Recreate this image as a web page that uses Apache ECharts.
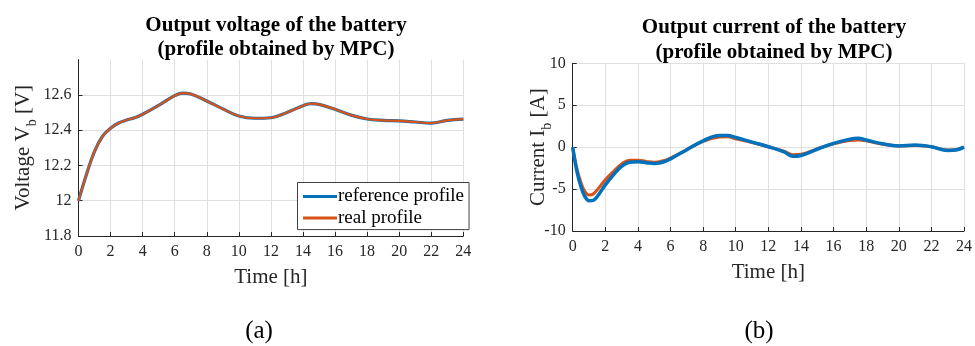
<!DOCTYPE html>
<html>
<head>
<meta charset="utf-8">
<script src="https://cdn.jsdelivr.net/npm/echarts@6/dist/echarts.min.js"></script>
<style>
  html, body { margin: 0; padding: 0; background: #fff; }
  #chart { width: 975px; height: 346px; }
</style>
</head>
<body>
<div id="chart"></div>
<script>
// voltage panel (a)
var hoursV = [0, 0.5, 1, 1.5, 2, 2.5, 3, 3.5, 4, 5, 6, 6.5, 7, 8, 9, 10, 11, 12, 13, 14, 14.5, 15, 16, 17, 18, 19, 20, 21, 22, 23, 24];
var voltRef = [12.0, 12.15, 12.28, 12.365, 12.41, 12.44, 12.457, 12.47, 12.49, 12.54, 12.595, 12.61, 12.605, 12.565, 12.52, 12.48, 12.467, 12.47, 12.5, 12.538, 12.55, 12.546, 12.518, 12.485, 12.463, 12.455, 12.452, 12.446, 12.44, 12.455, 12.462];
var voltReal = [12.0, 12.15, 12.28, 12.365, 12.41, 12.44, 12.457, 12.47, 12.49, 12.54, 12.595, 12.61, 12.605, 12.565, 12.52, 12.48, 12.467, 12.47, 12.5, 12.538, 12.55, 12.546, 12.518, 12.485, 12.463, 12.455, 12.452, 12.446, 12.44, 12.455, 12.462];

// current panel (b)
var hoursI = [0, 0.25, 0.5, 0.75, 1, 1.25, 1.5, 2, 2.5, 3, 3.5, 4, 4.5, 5, 5.5, 6, 7, 8, 9, 9.5, 10, 11, 12, 13, 13.5, 14, 15, 16, 17, 17.5, 18, 19, 20, 21, 22, 23, 23.5, 24];
var currRef = [0, -2.8, -4.7, -5.9, -6.4, -6.35, -5.9, -4.5, -3.3, -2.3, -1.8, -1.75, -1.85, -1.95, -1.8, -1.4, -0.3, 0.75, 1.4, 1.4, 1.15, 0.6, 0.05, -0.6, -1.1, -1.0, -0.25, 0.45, 0.95, 1.05, 0.85, 0.4, 0.15, 0.25, 0.05, -0.4, -0.35, 0];
var currReal = [0, -2.5, -4.2, -5.3, -5.7, -5.6, -5.1, -3.9, -2.9, -2.0, -1.55, -1.55, -1.7, -1.8, -1.65, -1.3, -0.3, 0.7, 1.2, 1.25, 1.0, 0.55, 0.05, -0.5, -0.9, -0.85, -0.2, 0.4, 0.8, 0.85, 0.75, 0.35, 0.15, 0.2, 0.05, -0.35, -0.3, 0];

var xTicks = [0, 24, 2];
var seriesNames = ['reference profile', 'real profile'];

var blue = '#0072BD', orange = '#D95319';
var axisCol = '#262626', gridCol = '#dfdfdf';
var serif = 'Liberation Serif';

function pairs(xs, ys) {
  return xs.map(function (x, i) { return [x, ys[i]]; });
}

function xAxisOf(idx) {
  return {
    type: 'value', gridIndex: idx, min: xTicks[0], max: xTicks[1], interval: xTicks[2],
    name: 'Time [h]', nameLocation: 'middle', nameGap: 31, nameMoveOverlap: false,
    nameTextStyle: { fontFamily: serif, fontSize: 21, color: axisCol },
    axisLine: { onZero: false, lineStyle: { color: axisCol, width: 1 } },
    axisTick: { inside: true, length: 4, lineStyle: { color: axisCol } },
    axisLabel: { fontFamily: serif, fontSize: 16, color: axisCol, margin: 8 },
    splitLine: { show: true, lineStyle: { color: gridCol } }
  };
}

function yName(a, b, c) {
  return {
    name: '{m|' + a + '}{s|' + b + '}{m|' + c + '}',
    nameTextStyle: { rich: {
      m: { fontFamily: serif, fontSize: 21, color: axisCol },
      s: { fontFamily: serif, fontSize: 14, color: axisCol, verticalAlign: 'bottom', padding: [19, 0, 0, 0] }
    } }
  };
}

var yV = yName('Voltage V', 'b', ' [V]');
var yI = yName('Current I', 'b', ' [A]');

var chart = echarts.init(document.getElementById('chart'));
chart.setOption({
  animation: false,
  title: [
    { text: 'Output voltage of the battery\n(profile obtained by MPC)', left: 271, top: 8, textAlign: 'center',
      textStyle: { fontFamily: serif, fontSize: 21, fontWeight: 'bold', color: '#000', lineHeight: 24.5 } },
    { text: 'Output current of the battery\n(profile obtained by MPC)', left: 769, top: 10.5, textAlign: 'center',
      textStyle: { fontFamily: serif, fontSize: 21, fontWeight: 'bold', color: '#000', lineHeight: 24.5 } },
    { text: '(a)', left: 254, top: 314, textAlign: 'center',
      textStyle: { fontFamily: serif, fontSize: 25, fontWeight: 'normal', color: '#000', lineHeight: 25 } },
    { text: '(b)', left: 754, top: 314, textAlign: 'center',
      textStyle: { fontFamily: serif, fontSize: 25, fontWeight: 'normal', color: '#000', lineHeight: 25 } }
  ],
  legend: {
    data: seriesNames, orient: 'vertical', left: 297.5, top: 182.5,
    icon: 'rect', itemWidth: 34, itemHeight: 3, itemGap: 2.6,
    padding: [4.5, 5, 2, 5.5], backgroundColor: '#fff',
    borderColor: '#404040', borderWidth: 1,
    textStyle: { fontFamily: serif, fontSize: 19, color: '#000', padding: [0, 0, 0, -4] }
  },
  grid: [
    { left: 78.5, right: 511.7, top: 59.5, bottom: 110 },
    { left: 572.7, right: 10.7, top: 63.3, bottom: 115 }
  ],
  xAxis: [xAxisOf(0), xAxisOf(1)],
  yAxis: [
    {
      type: 'value', gridIndex: 0, min: 11.8, max: 12.8, interval: 0.2,
      name: yV.name, nameTextStyle: yV.nameTextStyle, nameLocation: 'middle', nameGap: 39, nameMoveOverlap: false,
      axisLine: { show: true, onZero: false, lineStyle: { color: axisCol } },
      axisTick: { show: true, inside: true, length: 4, lineStyle: { color: axisCol } },
      axisLabel: { fontFamily: serif, fontSize: 16, color: axisCol, margin: 7, showMaxLabel: false,
        formatter: function (v) { return +v.toFixed(1) + ''; } },
      splitLine: { show: true, lineStyle: { color: [gridCol, gridCol, gridCol, gridCol, gridCol, 'rgba(0,0,0,0)'] } }
    },
    {
      type: 'value', gridIndex: 1, min: -10, max: 10, interval: 5,
      name: yI.name, nameTextStyle: yI.nameTextStyle, nameLocation: 'middle', nameGap: 18, nameMoveOverlap: false,
      axisLine: { show: true, onZero: false, lineStyle: { color: axisCol } },
      axisTick: { show: true, inside: true, length: 4, lineStyle: { color: axisCol } },
      axisLabel: { fontFamily: serif, fontSize: 16, color: axisCol, margin: 7 },
      splitLine: { show: true, lineStyle: { color: gridCol } }
    }
  ],
  series: [
    { name: seriesNames[0], type: 'line', xAxisIndex: 0, yAxisIndex: 0, data: pairs(hoursV, voltRef),
      smooth: 0.4, showSymbol: false, color: blue, lineStyle: { width: 3.2, color: blue } },
    { name: seriesNames[1], type: 'line', xAxisIndex: 0, yAxisIndex: 0, data: pairs(hoursV, voltReal),
      smooth: 0.4, showSymbol: false, color: orange, lineStyle: { width: 2.2, color: orange } },
    { name: seriesNames[1], type: 'line', xAxisIndex: 1, yAxisIndex: 1, data: pairs(hoursI, currReal),
      smooth: 0.4, showSymbol: false, color: orange, lineStyle: { width: 3, color: orange } },
    { name: seriesNames[0], type: 'line', xAxisIndex: 1, yAxisIndex: 1, data: pairs(hoursI, currRef),
      smooth: 0.4, showSymbol: false, color: blue, lineStyle: { width: 3.5, color: blue } }
  ]
});
</script>
</body>
</html>
